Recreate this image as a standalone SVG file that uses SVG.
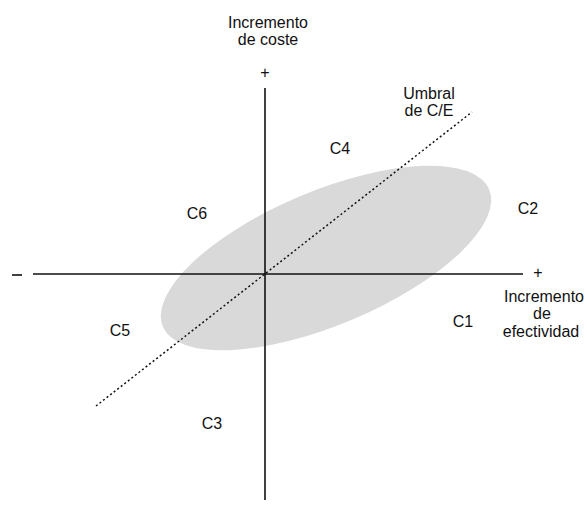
<svg xmlns="http://www.w3.org/2000/svg" width="587" height="518" viewBox="0 0 587 518">
<style>
text{font-family:"Liberation Sans",Arial,sans-serif;font-size:16px;fill:#111;text-anchor:middle}
.ax{stroke:#111;stroke-width:1.6;fill:none}
.thr{stroke:#111;stroke-width:1.5;stroke-dasharray:2 2.5;fill:none}
</style>
<rect width="587" height="518" fill="#fff"/>
<g id="cloud"><ellipse cx="326" cy="258" rx="177" ry="67" transform="rotate(-22.8 326 258)" fill="#d9d9d9"/></g>
<g id="connectors">
<line class="ax" x1="33" y1="274" x2="523" y2="274"/>
<line class="ax" x1="265" y1="88" x2="265" y2="500"/>
<line class="ax" x1="12" y1="275" x2="22" y2="275"/>
<line class="thr" x1="96" y1="406" x2="472" y2="112"/>
</g>
<g id="ylabel"><text x="268" y="28">Incremento</text><text x="268" y="45">de coste</text><text x="265" y="78">+</text></g>
<g id="xlabel"><text x="538" y="278">+</text><text x="544" y="302">Incremento</text><text x="542" y="319">de</text><text x="541" y="337">efectividad</text></g>
<g id="threshold"><text x="429" y="99">Umbral</text><text x="429" y="116">de C/E</text></g>
<g id="c1"><text x="463" y="327">C1</text></g>
<g id="c2"><text x="528" y="214">C2</text></g>
<g id="c3"><text x="212" y="429">C3</text></g>
<g id="c4"><text x="340" y="154">C4</text></g>
<g id="c5"><text x="120" y="336">C5</text></g>
<g id="c6"><text x="197" y="219">C6</text></g>
</svg>
